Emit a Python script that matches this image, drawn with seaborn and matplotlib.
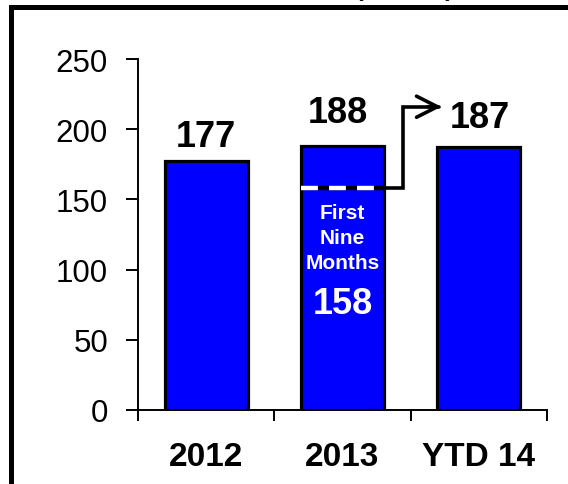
import matplotlib
matplotlib.use("Agg")
import matplotlib.pyplot as plt
import seaborn as sns
import pandas as pd
from matplotlib.patches import Rectangle

# Annual totals and the first-nine-months figure for 2013
categories = ["2012", "2013", "YTD 14"]
values = [177, 188, 187]
nine_month_value = 158
nine_month_label = "First\nNine\nMonths"
y_ticks = [0, 50, 100, 150, 200, 250]

sns.set_style("ticks")
plt.rcParams["font.family"] = ["Liberation Sans", "DejaVu Sans"]

W, H = 568, 485
fig = plt.figure(figsize=(W / 100, H / 100), dpi=100)
ax = fig.add_axes([138 / W, 74 / H, 409 / W, 351 / H])

bar_width = 0.61
df = pd.DataFrame({"period": categories, "value": values})
sns.barplot(data=df, x="period", y="value", color="#0000FF", saturation=1,
            edgecolor="black", linewidth=2.3, width=bar_width, ax=ax)

ax.set_xlim(-0.5, len(categories) - 0.5)
ax.set_ylim(y_ticks[0], y_ticks[-1])
ax.set_xlabel("")
ax.set_ylabel("")

for side in ("top", "right"):
    ax.spines[side].set_visible(False)
for side in ("left", "bottom"):
    ax.spines[side].set_linewidth(1.4)
    ax.spines[side].set_color("black")

ax.set_yticks(y_ticks)
ax.tick_params(axis="y", length=8.6, width=1.4, pad=13, labelsize=22.5,
               colors="black")
ax.set_xticks([i - 0.5 for i in range(len(categories) + 1)], minor=True)
ax.tick_params(axis="x", which="minor", length=8, width=1.4, color="black")
ax.tick_params(axis="x", which="major", length=0, pad=22, labelsize=24,
               labelcolor="black")
for lbl in ax.get_xticklabels():
    lbl.set_fontweight("bold")

# Value labels above the bars
label_dx = [0.0, -0.035, 0.01]
label_dy = [11, 17, 14.5]
for i, v in enumerate(values):
    ax.text(i + label_dx[i], v + label_dy[i], f"{v}", ha="center",
            va="baseline", fontsize=26, fontweight="bold", color="black")

# Nine-month marker inside the 2013 bar
x0, x1 = 1 - bar_width / 2, 1 + bar_width / 2
ax.plot([x0, x1], [nine_month_value] * 2, color="black", lw=3.2,
        solid_capstyle="butt", zorder=5)
ax.plot([x0, x1], [nine_month_value] * 2, color="white", lw=3.2,
        dashes=(3.8, 2.5), dash_capstyle="butt", zorder=6)
ax.text(1.0, 123, nine_month_label, ha="center", va="center", fontsize=15,
        fontweight="bold", color="white", linespacing=1.42, zorder=7)
ax.text(1.0, 75.5, f"{nine_month_value}", ha="center", va="center",
        fontsize=26, fontweight="bold", color="white", zorder=7)

# Elbow connector from the nine-month level to the YTD label
elbow_x, arrow_y, tip_x = 1.444, 216, 1.725
ax.plot([x1, elbow_x, elbow_x, tip_x - 0.02],
        [nine_month_value, nine_month_value, arrow_y, arrow_y],
        color="black", lw=2.6, solid_joinstyle="miter", zorder=5,
        clip_on=False)
ax.annotate("", xy=(tip_x, arrow_y), xytext=(tip_x - 0.1, arrow_y),
            arrowprops=dict(arrowstyle="->,head_length=0.75,head_width=0.38",
                            lw=2.6, color="black", mutation_scale=20,
                            shrinkA=0, shrinkB=0),
            annotation_clip=False)

# Outer frame and the parentheses of the heading above it
frame = Rectangle((11 / W, -0.3), 1.2, 1.3 - 8 / H, transform=fig.transFigure,
                  fill=False, edgecolor="black", linewidth=3.6, zorder=10)
fig.patches.append(frame)
fig.text(357 / W, 1 + 7 / H, "(", fontsize=28, ha="center", va="baseline",
         color="black")
fig.text(451 / W, 1 + 7 / H, ")", fontsize=28, ha="center", va="baseline",
         color="black")

fig.savefig("out.png", dpi=100)
